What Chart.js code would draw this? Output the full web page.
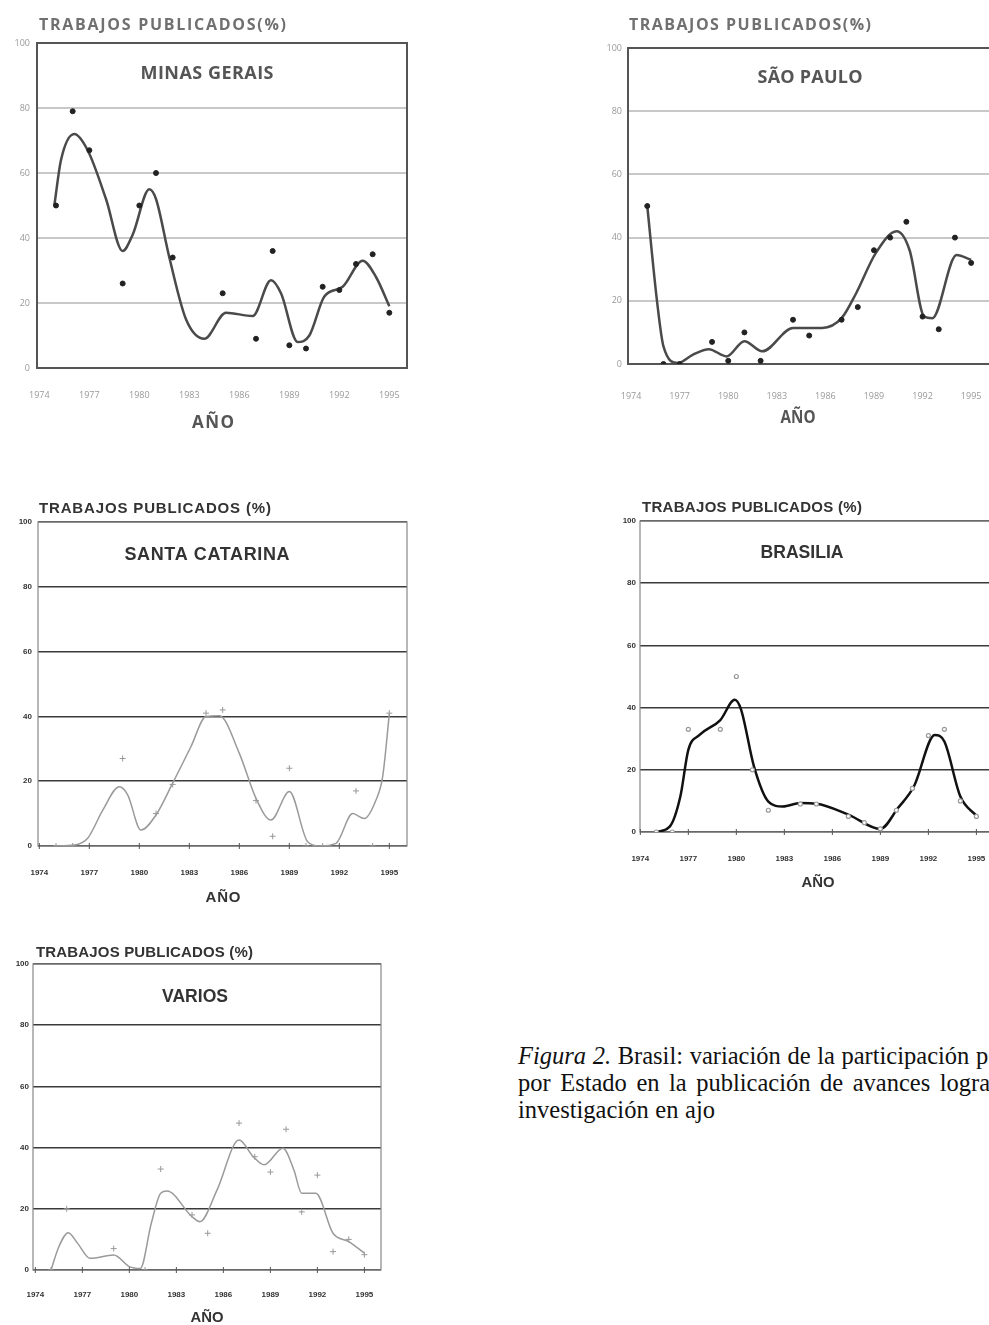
<!DOCTYPE html>
<html>
<head>
<meta charset="utf-8">
<script src="https://cdn.jsdelivr.net/npm/chart.js@4.4.0/dist/chart.umd.min.js"></script>
<style>
html, body { margin: 0; padding: 0; background: #fff; }
body { width: 989px; height: 1325px; position: relative; overflow: hidden; }
.panel { position: absolute; }
.caption {
    position: absolute; left: 518px; top: 1042px;
    font: 24.5px "Liberation Serif", "Times New Roman", serif;
    line-height: 27px; color: #111; white-space: nowrap;
}
.caption div { word-spacing: 0.5px; }
.caption .wide { word-spacing: 3.4px; }
</style>
</head>
<body>
<div class="panel"><canvas id="c1"></canvas></div>
<div class="panel"><canvas id="c2"></canvas></div>
<div class="panel"><canvas id="c3"></canvas></div>
<div class="panel"><canvas id="c4"></canvas></div>
<div class="panel"><canvas id="c5"></canvas></div>
<div class="caption">
  <div><i>Figura 2.</i> Brasil: variación de la participación porcentual</div>
  <div class="wide">por Estado en la publicación de avances logrados en la</div>
  <div>investigación en ajo</div>
</div>

<script>
const tickYears = [1974, 1977, 1980, 1983, 1986, 1989, 1992, 1995];
const pctTicks = [0, 20, 40, 60, 80, 100];

// Minas Gerais
const mgYears = [1975, 1976, 1977, 1979, 1980, 1981, 1982, 1985, 1987, 1988, 1989, 1990, 1991, 1992, 1993, 1994, 1995];
const mgPct = [50, 79, 67, 26, 50, 60, 34, 23, 9, 36, 7, 6, 25, 24, 32, 35, 17];
const mgCurveYears = [1974.9, 1975.3, 1976.1, 1976.9, 1978, 1979, 1979.6, 1980.6, 1981, 1981.8, 1982.8, 1983.9, 1985.2, 1986.8, 1987.9, 1988.5, 1989.5, 1990.2, 1991.1, 1992.2, 1993.4, 1994.2, 1995];
const mgCurvePct = [50, 64, 72, 67, 52, 36, 41, 55, 52, 34, 15, 9, 17, 16, 27, 23, 8, 10, 22, 25, 33, 28, 19];

// Sao Paulo
const spYears = [1975, 1976, 1977, 1979, 1980, 1981, 1982, 1984, 1985, 1987, 1988, 1989, 1990, 1991, 1992, 1993, 1994, 1995];
const spPct = [50, 0, 0, 7, 1, 10, 1, 14, 9, 14, 18, 36, 40, 45, 15, 11, 40, 32];
const spCurveYears = [1975, 1975.6, 1976, 1976.9, 1977.8, 1978.8, 1979.9, 1981, 1982.1, 1984, 1985.8, 1987, 1987.9, 1989.1, 1990.4, 1991.2, 1992.1, 1992.6, 1994.1, 1995];
const spCurvePct = [50, 20, 5.6, 0.3, 2.9, 4.7, 2.4, 7.2, 4, 11.4, 11.4, 14.5, 22.4, 35, 42, 36, 15, 14.5, 34.5, 33];

// Santa Catarina
const scYears = [1975, 1976, 1979, 1981, 1982, 1984, 1985, 1987, 1988, 1989, 1990, 1991, 1993, 1994, 1995];
const scPct = [0, 0, 27, 10, 19, 41, 42, 14, 3, 24, 0, 0, 17, 0, 41];
const scCurveYears = [1974.9, 1976.1, 1976.9, 1977.8, 1978.8, 1979.3, 1980.1, 1981, 1982, 1983.1, 1984, 1984.8, 1986, 1987, 1987.9, 1989, 1990.1, 1990.8, 1991.8, 1992.8, 1993.5, 1994.2, 1994.6, 1995];
const scCurvePct = [0, 0.3, 2.4, 11, 18.3, 15.8, 4.9, 9.6, 19.4, 30.7, 40, 40.2, 28.6, 14.7, 8, 16.8, 1.3, 0, 0.8, 10, 8.5, 14.2, 21.4, 40.8];

// Brasilia
const brYears = [1975, 1976, 1977, 1979, 1980, 1981, 1982, 1984, 1985, 1987, 1988, 1989, 1990, 1991, 1992, 1993, 1994, 1995];
const brPct = [0, 0, 33, 33, 50, 20, 7, 9, 9, 5, 3, 1, 7, 14, 31, 33, 10, 5];
const brCurveYears = [1975, 1975.85, 1976.5, 1977, 1977.7, 1979, 1979.9, 1980.3, 1981.1, 1982, 1982.9, 1984, 1985, 1987, 1989, 1990.1, 1991.1, 1992.4, 1993, 1994, 1995];
const brCurvePct = [0, 1.8, 11.4, 26.4, 31.2, 36, 42.5, 39.3, 21.1, 9.8, 8.2, 9.3, 9.1, 5.6, 1, 7.7, 14.7, 31.2, 29.1, 11.4, 5.2];

// Varios
const vaYears = [1975, 1976, 1979, 1981, 1982, 1984, 1985, 1987, 1988, 1989, 1990, 1991, 1992, 1993, 1994, 1995];
const vaPct = [0, 20, 7, 0, 33, 18, 12, 48, 37, 32, 46, 19, 31, 6, 10, 5];
const vaCurveYears = [1975, 1975.5, 1976.1, 1976.7, 1977.5, 1979, 1980, 1980.7, 1981.4, 1982, 1982.4, 1984, 1984.5, 1985.6, 1987, 1987.9, 1988.6, 1989.8, 1990.5, 1991, 1991.9, 1993, 1994, 1995];
const vaCurvePct = [0, 7.6, 12.2, 8.7, 3.8, 4.9, 1.1, 0.5, 15.3, 25.1, 25.8, 17.4, 15.8, 26.2, 42.5, 37.1, 34.4, 39.8, 32.7, 25.1, 25.1, 12, 9.3, 5.5];

const styleA = {
    grid: '#c8c8c8', gridWidth: 2, box: '#555', boxWidth: 2, xTicks: false,
    tickFont: { family: 'Open Sans', size: 9 }, tickColor: '#999',
    headerFont: 'bold 16px "Open Sans"', headerColor: '#707070',
    nameFont: 'bold 18px "Open Sans"', nameColor: '#555',
    axisFont: 'bold 17px "Open Sans"', axisColor: '#555',
    curve: '#4a4a4a', curveWidth: 2.5,
    point: 'circle', pointRadius: 2.5, pointColor: '#222', pointFill: '#222', pointWidth: 1
};
const styleB = {
    grid: '#3a3a3a', gridWidth: 1.5, box: '#888', boxWidth: 1.2, xTicks: true,
    tickFont: { family: 'Liberation Sans', size: 8, weight: 'bold' }, tickColor: '#333',
    headerFont: 'bold 15px "Liberation Sans"', headerColor: '#333',
    nameFont: 'bold 18px "Liberation Sans"', nameColor: '#333',
    axisFont: 'bold 15px "Liberation Sans"', axisColor: '#333',
    curve: '#9a9a9a', curveWidth: 1.5,
    point: 'cross', pointRadius: 3, pointColor: '#999', pointFill: '#999', pointWidth: 1
};
const styleC = Object.assign({}, styleB, {
    curve: '#111', curveWidth: 2.5,
    point: 'circle', pointRadius: 2, pointColor: '#999', pointFill: '#fff', pointWidth: 1.2
});

const panels = [
    { id: 'c1', left: 0, top: 0, w: 440, h: 440, area: { l: 37, t: 43, r: 407, b: 368 },
      xMin: 1973.86, xMax: 1996.06, xPad: 14, yPad: 7, style: styleA,
      header: { text: 'TRABAJOS PUBLICADOS(%)', x: 39, y: 25, w: 247 },
      name: { text: 'MINAS GERAIS', x: 207, y: 74, w: 133 }, axis: { x: 213, y: 423, w: 42 },
      years: mgYears, pct: mgPct, curveYears: mgCurveYears, curvePct: mgCurvePct },
    { id: 'c2', left: 540, top: 0, w: 500, h: 440, area: { l: 88, t: 48, r: 470, b: 364 },
      xMin: 1973.81, xMax: 1997.4, xPad: 19, yPad: 6, style: styleA,
      header: { text: 'TRABAJOS PUBLICADOS(%)', x: 89, y: 25, w: 242 },
      name: { text: 'SÃO PAULO', x: 270, y: 78, w: 105 }, axis: { x: 258, y: 418, w: 35 },
      years: spYears, pct: spPct, curveYears: spCurveYears, curvePct: spCurvePct },
    { id: 'c3', left: 0, top: 490, w: 440, h: 420, area: { l: 38, t: 32, r: 407, b: 356 },
      xMin: 1973.92, xMax: 1996.06, xPad: 14, yPad: 6, style: styleB,
      header: { text: 'TRABAJOS PUBLICADOS (%)', x: 39, y: 19, w: 232 },
      name: { text: 'SANTA CATARINA', x: 207, y: 65, w: 165 }, axis: { x: 223, y: 408, w: 35 },
      years: scYears, pct: scPct, curveYears: scCurveYears, curvePct: scCurvePct },
    { id: 'c4', left: 560, top: 490, w: 480, h: 420, area: { l: 80, t: 31, r: 450, b: 342 },
      xMin: 1973.98, xMax: 1997.1, xPad: 14, yPad: 4, style: styleC,
      header: { text: 'TRABAJOS PUBLICADOS (%)', x: 82, y: 18, w: 220 },
      name: { text: 'BRASILIA', x: 242, y: 63, w: 83 }, axis: { x: 258, y: 393, w: 33 },
      years: brYears, pct: brPct, curveYears: brCurveYears, curvePct: brCurvePct },
    { id: 'c5', left: 0, top: 930, w: 420, h: 395, area: { l: 33, t: 34, r: 381, b: 340 },
      xMin: 1973.85, xMax: 1996.06, xPad: 12, yPad: 4, style: styleB,
      header: { text: 'TRABAJOS PUBLICADOS (%)', x: 36, y: 23, w: 217 },
      name: { text: 'VARIOS', x: 195, y: 67, w: 66 }, axis: { x: 207, y: 388, w: 33 },
      years: vaYears, pct: vaPct, curveYears: vaCurveYears, curvePct: vaCurvePct }
];

// text stretched or squeezed to the width it has in the picture
function fitText(ctx, text, x, y, width, center) {
    ctx.letterSpacing = '0px';
    const w = ctx.measureText(text).width;
    const left = center ? x - width / 2 : x;
    ctx.textAlign = 'left';
    if (w >= width) {
        ctx.save();
        ctx.translate(left, y);
        ctx.scale(width / w, 1);
        ctx.fillText(text, 0, 0);
        ctx.restore();
    } else {
        ctx.letterSpacing = ((width - w) / (text.length - 1)) + 'px';
        ctx.fillText(text, left, y);
        ctx.letterSpacing = '0px';
    }
}

const panelText = {
    id: 'panelText',
    beforeDatasetsDraw(chart, args, o) {
        const { ctx, chartArea: a } = chart;
        const s = o.style;
        ctx.save();
        ctx.strokeStyle = s.box;
        ctx.lineWidth = s.boxWidth;
        ctx.strokeRect(a.left, a.top, a.right - a.left, a.bottom - a.top);
        if (s.xTicks) {
            const xs = chart.scales.x;
            ctx.strokeStyle = '#555';
            ctx.lineWidth = 1;
            tickYears.forEach(v => {
                const px = xs.getPixelForValue(v);
                ctx.beginPath();
                ctx.moveTo(px, a.bottom - 3);
                ctx.lineTo(px, a.bottom + 3);
                ctx.stroke();
            });
        }
        ctx.restore();
    },
    afterDraw(chart, args, o) {
        const ctx = chart.ctx;
        const s = o.style;
        ctx.save();
        ctx.textBaseline = 'middle';
        ctx.font = s.headerFont;
        ctx.fillStyle = s.headerColor;
        fitText(ctx, o.header.text, o.header.x, o.header.y, o.header.w, false);
        ctx.font = s.nameFont;
        ctx.fillStyle = s.nameColor;
        fitText(ctx, o.name.text, o.name.x, o.name.y, o.name.w, true);
        ctx.font = s.axisFont;
        ctx.fillStyle = s.axisColor;
        fitText(ctx, 'AÑO', o.axis.x, o.axis.y, o.axis.w, true);
        ctx.restore();
    }
};

function pairs(xs, ys) {
    return xs.map((x, i) => ({ x: x, y: ys[i] }));
}

function makeChart(p) {
    const canvas = document.getElementById(p.id);
    const box = canvas.parentElement;
    box.style.left = p.left + 'px';
    box.style.top = p.top + 'px';
    canvas.width = p.w;
    canvas.height = p.h;
    const s = p.style;
    return new Chart(canvas, {
        type: 'line',
        data: {
            datasets: [{
                data: pairs(p.curveYears, p.curvePct),
                borderColor: s.curve,
                borderWidth: s.curveWidth,
                pointRadius: 0,
                cubicInterpolationMode: 'monotone',
                fill: false,
                order: 2
            }, {
                data: pairs(p.years, p.pct),
                showLine: false,
                pointStyle: s.point,
                pointRadius: s.pointRadius,
                pointBorderColor: s.pointColor,
                pointBackgroundColor: s.pointFill,
                pointBorderWidth: s.pointWidth,
                order: 1
            }]
        },
        options: {
            responsive: false,
            animation: false,
            events: [],
            layout: { autoPadding: false, padding: { left: 0, top: p.area.t, right: p.w - p.area.r, bottom: 0 } },
            plugins: {
                legend: { display: false },
                tooltip: { enabled: false },
                panelText: { style: s, header: p.header, name: p.name, axis: p.axis }
            },
            scales: {
                x: {
                    type: 'linear', min: p.xMin, max: p.xMax,
                    afterBuildTicks: sc => { sc.ticks = tickYears.map(v => ({ value: v })); },
                    afterFit: sc => { sc.height = p.h - p.area.b; },
                    grid: { display: false },
                    border: { display: false },
                    ticks: { padding: p.xPad, font: s.tickFont, color: s.tickColor, maxRotation: 0, autoSkip: false,
                             callback: v => String(v) }
                },
                y: {
                    min: 0, max: 100,
                    afterBuildTicks: sc => { sc.ticks = pctTicks.map(v => ({ value: v })); },
                    afterFit: sc => { sc.width = p.area.l; },
                    grid: { color: s.grid, lineWidth: s.gridWidth, drawTicks: false },
                    border: { display: false },
                    ticks: { padding: p.yPad, font: s.tickFont, color: s.tickColor }
                }
            }
        },
        plugins: [panelText]
    });
}

panels.forEach(makeChart);
</script>
</body>
</html>
